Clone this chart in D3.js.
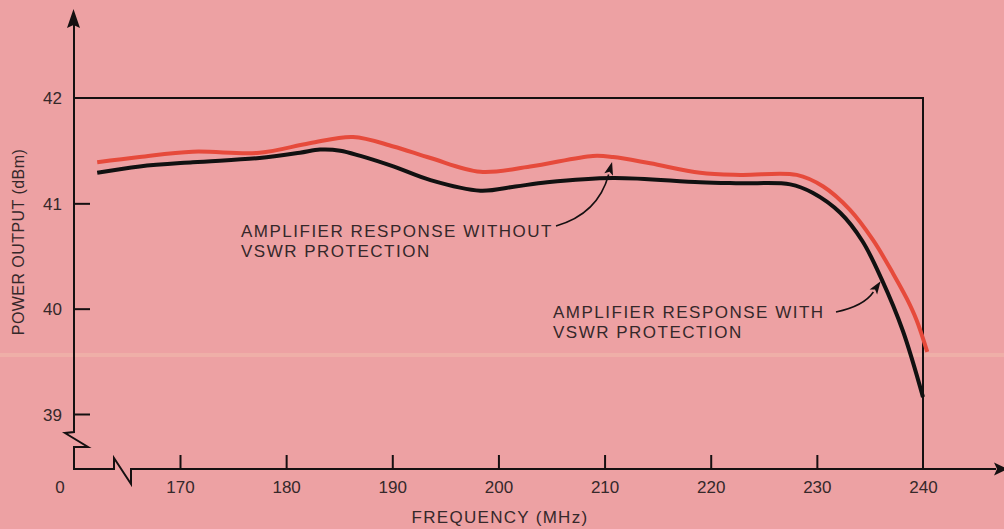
<!DOCTYPE html>
<html>
<head>
<meta charset="utf-8">
<script src="https://cdn.jsdelivr.net/npm/d3@7"></script>
<style>
  html, body { margin: 0; padding: 0; background: #eda1a3; }
  svg { display: block; }
  text { font-family: "Liberation Sans", Arial, Helvetica, sans-serif; fill: #35282a; }
</style>
</head>
<body>
<svg id="chart" width="1004" height="529"></svg>
<script>
// Frequency (MHz) and power output (dBm) of the amplifier
const freqWith    = [162.2, 166.2, 171.2, 177.5, 181.3, 183.2, 185.1, 187.0, 190.1, 193.6, 198.3, 201.6, 204.6, 210.8, 219.0, 222.8, 227.5, 229.6, 232.2, 234.3, 236.1, 238.1, 240.0];
const powerWith   = [41.29, 41.35, 41.39, 41.43, 41.48, 41.51, 41.50, 41.45, 41.35, 41.22, 41.12, 41.16, 41.20, 41.24, 41.20, 41.19, 41.18, 41.10, 40.91, 40.64, 40.28, 39.79, 39.16];
const freqWithout = [162.2, 166.2, 171.2, 177.5, 182.2, 186.3, 190.1, 193.6, 198.3, 203.0, 208.9, 210.8, 214.3, 219.0, 222.8, 228.1, 230.6, 233.1, 235.3, 237.2, 238.5, 239.4, 240.4];
const powerWithout= [41.39, 41.44, 41.49, 41.48, 41.57, 41.63, 41.54, 41.43, 41.30, 41.35, 41.45, 41.44, 41.38, 41.29, 41.27, 41.27, 41.16, 40.94, 40.65, 40.33, 40.09, 39.89, 39.59];

const xTicks = [170, 180, 190, 200, 210, 220, 230, 240];
const yTicks = [39, 40, 41];
const yTop = 42;

const xTitle = "FREQUENCY (MHz)";
const yTitle = "POWER OUTPUT (dBm)";
const noteWithout = ["AMPLIFIER RESPONSE WITHOUT", "VSWR PROTECTION"];
const noteWith    = ["AMPLIFIER RESPONSE WITH", "VSWR PROTECTION"];

const svg = d3.select("#chart");
const ink = "#151011";
const labelSize = "17px";

const x = d3.scaleLinear().domain([170, 240]).range([180, 923]);
const y = d3.scaleLinear().domain([39, 42]).range([414, 98]);

const ox = 74, oy = 469;   // axis origin (broken axes)

// faint scan streak across the sheet
svg.append("rect").attr("x", 0).attr("y", 353).attr("width", 1004).attr("height", 4)
  .attr("fill", "#f4d2b6").attr("opacity", 0.3);

// frame: 42 dBm line and 240 MHz line
svg.append("path")
  .attr("d", `M${ox},${y(yTop)}H${x(240)}V${oy}`)
  .attr("fill", "none").attr("stroke", ink).attr("stroke-width", 2);

// axes with break marks
svg.append("path")
  .attr("d", `M${ox},20V432L65,433L88,447H${ox}V${oy}H114V458L131,484V${oy}H996`)
  .attr("fill", "none").attr("stroke", ink).attr("stroke-width", 2).attr("stroke-linejoin", "miter");

// arrowheads on axes
svg.append("path").attr("d", `M${ox - 0.5},9L${ox + 6},28L${ox - 0.5},25L${ox - 7},28Z`).attr("fill", ink);
svg.append("path").attr("d", `M1008,${oy}L994,${oy - 6.5}L997,${oy}L994,${oy + 6.5}Z`).attr("fill", ink);

// y axis ticks and labels
const yAxis = d3.axisLeft(y).tickValues(yTicks).tickSize(-16).tickPadding(12).tickFormat(d3.format("d"));
const gy = svg.append("g").attr("transform", `translate(${ox},0)`).call(yAxis);
gy.select(".domain").remove();
gy.selectAll("line").attr("stroke", ink).attr("stroke-width", 2);
gy.selectAll("text").style("font-size", labelSize).attr("fill", "#35282a").attr("dy", "0.36em");
// 42 label sits at the frame line
svg.append("text").attr("x", ox - 12).attr("y", y(yTop)).attr("dy", "0.36em")
  .attr("text-anchor", "end").style("font-size", labelSize).text(yTop);

// x axis ticks and labels
const xAxis = d3.axisBottom(x).tickValues(xTicks).tickSize(-14).tickPadding(12).tickFormat(d3.format("d"));
const gx = svg.append("g").attr("transform", `translate(0,${oy})`).call(xAxis);
gx.select(".domain").remove();
gx.selectAll("line").attr("stroke", ink).attr("stroke-width", 2);
gx.selectAll("text").style("font-size", labelSize).attr("fill", "#35282a");
gx.selectAll(".tick").filter(d => d === 240).select("line").remove();
// origin label
svg.append("text").attr("x", 60).attr("y", 493).attr("text-anchor", "middle")
  .style("font-size", labelSize).text("0");

// axis titles
svg.append("text").attr("x", 500).attr("y", 523).attr("text-anchor", "middle")
  .style("font-size", "17px").style("letter-spacing", "1.3px").text(xTitle);
svg.append("text").attr("transform", "translate(24,242) rotate(-90)").attr("text-anchor", "middle")
  .style("font-size", "16px").style("letter-spacing", "0.45px").text(yTitle);

// response curves
const line = d3.line().x(d => x(d[0])).y(d => y(d[1])).curve(d3.curveCatmullRom.alpha(0.5));
const withoutData = d3.zip(freqWithout, powerWithout);
const withData = d3.zip(freqWith, powerWith);

svg.append("path").datum(withoutData).attr("d", line)
  .attr("fill", "none").attr("stroke", "#e64a3b").attr("stroke-width", 4).attr("stroke-linecap", "butt");
svg.append("path").datum(withData).attr("d", line)
  .attr("fill", "none").attr("stroke", "#111").attr("stroke-width", 4).attr("stroke-linecap", "butt");

// annotations
function note(lines, x0, y0) {
  const t = svg.append("text").attr("x", x0).attr("y", y0).style("font-size", "17px").style("letter-spacing", "1.5px");
  lines.forEach((s, i) => t.append("tspan").attr("x", x0).attr("y", y0 + i * 20).text(s));
}
note(noteWithout, 241, 237);
note(noteWith, 553, 318);

// curved leader with an arrowhead at its end
function leader(p0, c, tip) {
  const ang = Math.atan2(tip[1] - c[1], tip[0] - c[0]);
  const len = 13, half = 4.5;
  const bx = tip[0] - len * Math.cos(ang), by = tip[1] - len * Math.sin(ang);
  svg.append("path")
    .attr("d", `M${p0[0]},${p0[1]}Q${c[0]},${c[1]} ${bx},${by}`)
    .attr("fill", "none").attr("stroke", ink).attr("stroke-width", 1.6);
  const nx = -Math.sin(ang), ny = Math.cos(ang);
  svg.append("path")
    .attr("d", `M${tip[0]},${tip[1]}L${bx + nx * half},${by + ny * half}L${bx + 3 * Math.cos(ang)},${by + 3 * Math.sin(ang)}L${bx - nx * half},${by - ny * half}Z`)
    .attr("fill", ink);
}
// to the red curve near 210.8 MHz, and to the black curve near 236 MHz
leader([556, 226], [598, 214], [x(210.8) - 1, y(41.44) + 5]);
leader([836, 312], [864, 306], [x(236.1) - 1, y(40.28) + 2]);
</script>
</body>
</html>
